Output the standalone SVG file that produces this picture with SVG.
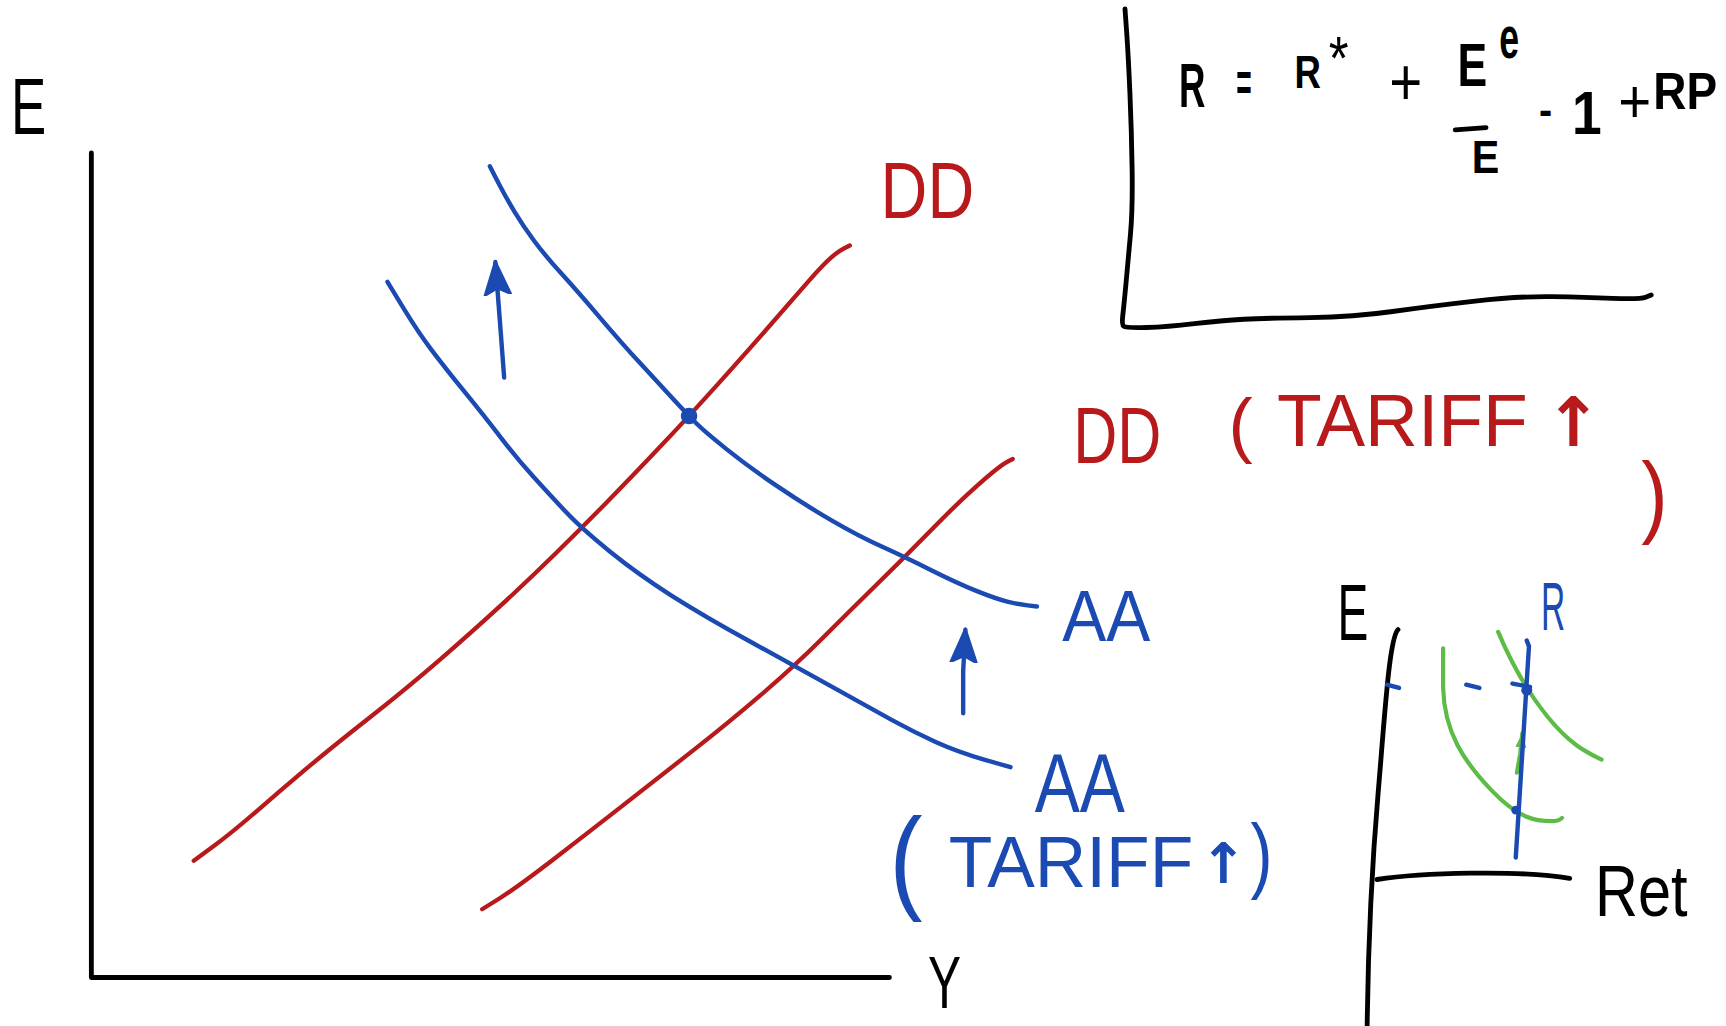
<svg xmlns="http://www.w3.org/2000/svg" width="1726" height="1026" viewBox="0 0 1726 1026">
<style>
.k{stroke:#000;fill:none;stroke-width:4.4;stroke-linecap:round;stroke-linejoin:round}
.r{stroke:#B8191B;fill:none;stroke-width:3.9;stroke-linecap:round;stroke-linejoin:round}
.b{stroke:#1A4AB2;fill:none;stroke-width:4;stroke-linecap:round;stroke-linejoin:round}
.g{stroke:#5DBB46;fill:none;stroke-width:3.8;stroke-linecap:round;stroke-linejoin:round}
text{font-family:"Liberation Sans",Arial,sans-serif}
.tk{fill:#000}.tr{fill:#B8191B}.tb{fill:#1A4AB2}
.bd{font-weight:bold}
.arw{font-family:"DejaVu Sans",sans-serif;font-weight:bold}
</style>
<defs>
<marker id="ab" viewBox="0 0 32 28" refX="30" refY="14" markerWidth="32" markerHeight="28" markerUnits="userSpaceOnUse" orient="auto">
<path d="M0,2 L31,14 L0,26 L6,14 Z" fill="#1A4AB2" stroke="#1A4AB2" stroke-width="2" stroke-linejoin="round"/>
</marker>
<marker id="ag" viewBox="0 0 14 12" refX="13" refY="6" markerWidth="14" markerHeight="12" markerUnits="userSpaceOnUse" orient="auto">
<path d="M0,1 L13,6 L0,11 Z" fill="#5DBB46"/>
</marker>
</defs>
<rect width="1726" height="1026" fill="#fff"/>
<g transform="scale(1.10077)">
<g id="main-axes">
<path class="k" d="M83,139 L83,888 L808,888"/>
<text class="tk" x="10" y="122" font-size="72" textLength="32" lengthAdjust="spacingAndGlyphs">E</text>
<text class="tk" x="843" y="916" font-size="68" textLength="30" lengthAdjust="spacingAndGlyphs">Y</text>
</g>
<g id="dd-curve">
<path class="r" d="M176,782 L193,769.5 Q210,757 232.5,737.5 Q255,718 277.5,699 Q300,680 335,652.5 Q370,625 400,599 Q430,573 455,550 Q480,527 504,503.5 Q528,480 551.5,456 Q575,432 600.5,405 Q626,378 653,348 Q680,318 700,295 Q720,272 734,256 Q748,240 755,234 Q762,228 767,225.5 L772,223"/>
<text class="tr" x="800" y="198" font-size="72" textLength="85" lengthAdjust="spacingAndGlyphs">DD</text>
</g>
<g id="dd-tariff-curve">
<path class="r" d="M438,826 L454,816 Q470,806 505,779 Q540,752 570,728.5 Q600,705 630,681.5 Q660,658 691,631.5 Q722,605 746,581 Q770,557 796,531.5 Q822,506 846,481.5 Q870,457 884,444.5 Q898,432 905,426.5 Q912,421 916,419 L920,417"/>
<text class="tr" x="975" y="421" font-size="72" textLength="80" lengthAdjust="spacingAndGlyphs">DD</text>
<text class="tr" x="1116" y="408" font-size="66" textLength="22" lengthAdjust="spacingAndGlyphs">(</text>
<text class="tr" x="1160" y="405" font-size="68" textLength="228" lengthAdjust="spacingAndGlyphs">TARIFF</text>
<text class="tr arw" x="1403" y="405" font-size="62">↑</text>
<text class="tr" x="1491" y="478" font-size="82" textLength="24" lengthAdjust="spacingAndGlyphs">)</text>
</g>
<g id="aa-curve">
<path class="b" d="M445,151 L446.5,154 Q448,157 454,168.5 Q460,180 467.5,192.5 Q475,205 485,218.5 Q495,232 510,248.5 Q525,265 545,288.5 Q565,312 582.5,331 Q600,350 613,364 Q626,378 633,385 Q640,392 660,408 Q680,424 705,441 Q730,458 755,472.5 Q780,487 801,496.5 Q822,506 846,518 Q870,530 887.5,537 Q905,544 915,546.5 Q925,549 933.5,550 L942,551"/>
<text class="tb" x="965" y="582" font-size="66" textLength="80" lengthAdjust="spacingAndGlyphs">AA</text>
</g>
<g id="aa-tariff-curve">
<path class="b" d="M352,256 L353.5,258.5 Q355,261 367.5,281.5 Q380,302 392.5,318.5 Q405,335 422.5,356.5 Q440,378 455,397.5 Q470,417 485,433.5 Q500,450 514,465 Q528,480 554,501 Q580,522 610,541 Q640,560 681,582.5 Q722,605 756,624 Q790,643 810,654 Q830,665 850,674 Q870,683 894,690 L918,697"/>
<text class="tb" x="940" y="738" font-size="76" textLength="82" lengthAdjust="spacingAndGlyphs">AA</text>
<text class="tb" x="808" y="816" font-size="104" textLength="30" lengthAdjust="spacingAndGlyphs">(</text>
<text class="tb" x="862" y="806" font-size="65" textLength="222" lengthAdjust="spacingAndGlyphs">TARIFF</text>
<text class="tb arw" x="1090" y="802" font-size="51">↑</text>
<text class="tb" x="1136" y="802" font-size="76" textLength="20" lengthAdjust="spacingAndGlyphs">)</text>
</g>
<g id="equilibrium">
<circle cx="626" cy="378" r="7.5" fill="#1A4AB2"/>
</g>
<g id="connectors">
<path class="b" d="M458,343 L454,290 L450,238" marker-end="url(#ab)"/>
<path class="b" d="M875,648 L875,610 L877,572" marker-end="url(#ab)"/>
<path class="g" d="M1378,702 L1381,685 L1383,666" marker-end="url(#ag)"/>
</g>
<g id="formula-box">
<path class="k" d="M1022,8 L1023.5,29 Q1025,50 1026.5,85 Q1028,120 1028.5,155 Q1029,190 1027,212.5 Q1025,235 1023,256.5 Q1021,278 1020,286.5 Q1019,295 1021,296.5 Q1023,298 1041.5,297.5 Q1060,297 1085,294 Q1110,291 1130,290 Q1150,289 1190,288.5 Q1230,288 1265,283 Q1300,278 1340,273.5 Q1380,269 1410,269.5 Q1440,270 1465,271 Q1490,272 1495,270 L1500,268"/>
<text class="tk bd" x="1071" y="97" font-size="58" textLength="24" lengthAdjust="spacingAndGlyphs">R</text>
<text class="tk bd" x="1123" y="92" font-size="50" textLength="14" lengthAdjust="spacingAndGlyphs">=</text>
<text class="tk bd" x="1176" y="80" font-size="42" textLength="24" lengthAdjust="spacingAndGlyphs">R</text>
<text class="tk" x="1207" y="72" font-size="56" textLength="18" lengthAdjust="spacingAndGlyphs">*</text>
<text class="tk" x="1262" y="95" font-size="60" textLength="30" lengthAdjust="spacingAndGlyphs">+</text>
<text class="tk bd" x="1324" y="78" font-size="56" textLength="27" lengthAdjust="spacingAndGlyphs">E</text>
<text class="tk bd" x="1362" y="53" font-size="54" textLength="18" lengthAdjust="spacingAndGlyphs">e</text>
<path class="k" d="M1322,118 L1350,116"/>
<text class="tk bd" x="1337" y="157" font-size="42" textLength="25" lengthAdjust="spacingAndGlyphs">E</text>
<text class="tk bd" x="1398" y="114" font-size="40" textLength="12" lengthAdjust="spacingAndGlyphs">-</text>
<text class="tk bd" x="1428" y="122" font-size="56" textLength="27" lengthAdjust="spacingAndGlyphs">1</text>
<text class="tk" x="1470" y="111" font-size="55" textLength="30" lengthAdjust="spacingAndGlyphs">+</text>
<text class="tk bd" x="1502" y="99" font-size="47" textLength="58" lengthAdjust="spacingAndGlyphs">RP</text>
</g>
<g id="inset-axes">
<path class="k" d="M1270,572 C1262,580 1258,650 1252,720 S1243,850 1242,932"/>
<path class="k" d="M1251,799 C1290,793 1380,790 1426,798"/>
<text class="tk" x="1215" y="581" font-size="72" textLength="28" lengthAdjust="spacingAndGlyphs">E</text>
<text class="tk" x="1449" y="832" font-size="66" textLength="84" lengthAdjust="spacingAndGlyphs">Ret</text>
</g>
<g id="inset-curves">
<path class="g" d="M1311,589 L1311,625 C1312,665 1330,692 1355,718 S1395,746 1410,746 Q1416,746 1419,743"/>
<path class="g" d="M1361,574 C1372,600 1385,625 1405,650 S1440,683 1455,690"/>
</g>
<g id="inset-rate-line">
<path class="b" d="M1387,582 L1389,587 L1377,779"/>
<text class="tb" x="1400" y="572" font-size="62" textLength="22" lengthAdjust="spacingAndGlyphs">R</text>
<path class="b" d="M1260,622 L1271,625"/>
<path class="b" d="M1332,622 L1344,625"/>
<path class="b" d="M1374,621 L1390,624"/>
<circle cx="1387" cy="627" r="5" fill="#1A4AB2"/>
<circle cx="1377" cy="736" r="4" fill="#1A4AB2"/>
</g>
</g>
</svg>
